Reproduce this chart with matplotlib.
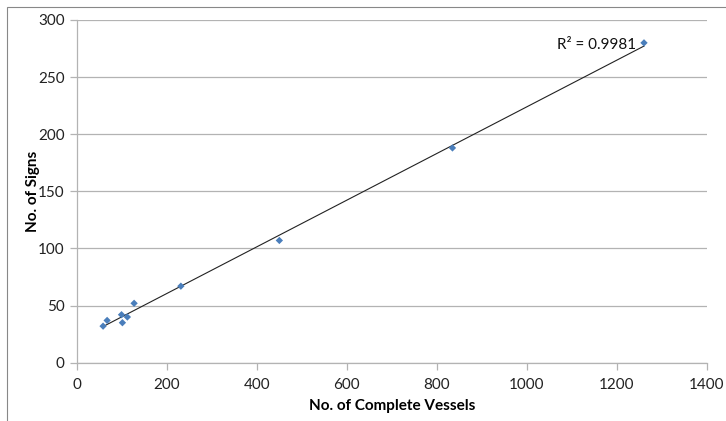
import numpy as np
import matplotlib
matplotlib.use("Agg")
import matplotlib.pyplot as plt
from matplotlib.patches import Rectangle

plt.rcParams['font.family'] = ['Lato', 'DejaVu Sans']

# Complete vessels vs. number of signs
vessels = [58, 67, 99, 101, 112, 127, 231, 450, 835, 1261]
signs = [32, 37, 42, 35, 40, 52, 67, 107, 188, 280]
r2_text = "R² = 0.9981"

x_ticks = [0, 200, 400, 600, 800, 1000, 1200, 1400]
y_ticks = [0, 50, 100, 150, 200, 250, 300]

W, H = 726, 421
fig = plt.figure(figsize=(W / 100, H / 100), dpi=100)
ax = fig.add_axes([77 / W, 1 - 362.7 / H, (706.5 - 77) / W, (362.7 - 20) / H])

# outer chart frame
fig.patches.append(Rectangle((7 / W, -0.1), 1.2, 1 - 7 / H + 0.1,
                             transform=fig.transFigure, fill=False,
                             edgecolor='#888888', linewidth=0.8))

grid_c = '#B3B3B3'
ax.set_xlim(0, 1400)
ax.set_ylim(0, 300)
ax.set_xticks(x_ticks)
ax.set_yticks(y_ticks)
ax.yaxis.grid(True, color=grid_c, linewidth=0.9)
ax.set_axisbelow(True)
for s in ['top', 'right']:
    ax.spines[s].set_visible(False)
for s in ['left', 'bottom']:
    ax.spines[s].set_color(grid_c)
    ax.spines[s].set_linewidth(0.9)
ax.tick_params(axis='both', colors=grid_c, length=5, width=0.9,
               labelcolor='#222222', labelsize=11)
ax.tick_params(axis='x', pad=6)
ax.tick_params(axis='y', pad=4)

# linear trendline
coef = np.polyfit(vessels, signs, 1)
xs = np.array([min(vessels), max(vessels)])
ax.plot(xs, np.polyval(coef, xs), color='#222222', linewidth=0.8, zorder=2)

ax.scatter(vessels, signs, marker='D', s=14, color='#4A7EBB',
           edgecolors='none', zorder=3)

ax.text(1067, 278, r2_text, fontsize=11, color='#111111',
        va='center', ha='left')

ax.set_xlabel('No. of Complete Vessels', fontsize=11, fontweight='bold',
              labelpad=5)
ax.set_ylabel('No. of Signs', fontsize=11, fontweight='bold')
ax.yaxis.set_label_coords(-0.058, 0.5)

fig.savefig('out.png', dpi=100)
